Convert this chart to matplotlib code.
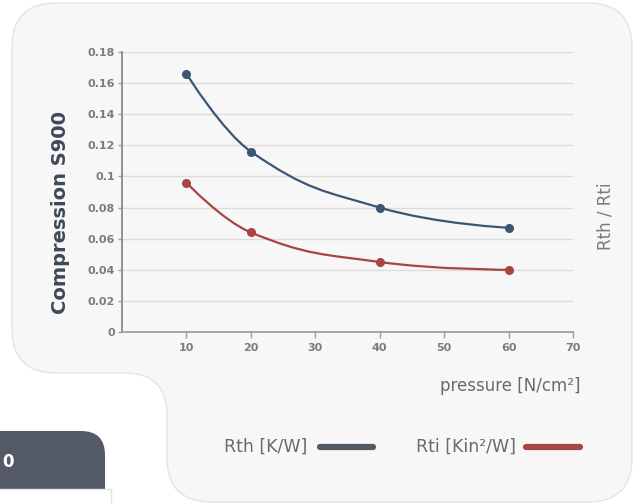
import numpy as np
import matplotlib
matplotlib.use('Agg')
import matplotlib.pyplot as plt
from matplotlib.path import Path
from matplotlib.patches import PathPatch, FancyBboxPatch, Rectangle

# data
pressure = [10, 20, 40, 60]
rth = [0.166, 0.116, 0.080, 0.067]
rti = [0.096, 0.064, 0.045, 0.040]
x_ticks = [10, 20, 30, 40, 50, 60, 70]
y_ticks = [0, 0.02, 0.04, 0.06, 0.08, 0.1, 0.12, 0.14, 0.16, 0.18]
y_tick_labels = ['0', '0.02', '0.04', '0.06', '0.08', '0.1', '0.12', '0.14', '0.16', '0.18']

RTH_COL = '#3c5573'
RTI_COL = '#a84442'
FONT = 'DejaVu Sans'


def spline_path(xs, ys, smooth=1.3):
	# highcharts-style spline: control points from neighbours, clamped so no false extremes
	n = len(xs)
	denom = smooth + 1
	lc = [None] * n
	rc = [None] * n
	for i in range(1, n - 1):
		x0, y0 = xs[i - 1], ys[i - 1]
		x1, y1 = xs[i], ys[i]
		x2, y2 = xs[i + 1], ys[i + 1]
		lx = (smooth * x1 + x0) / denom
		ly = (smooth * y1 + y0) / denom
		rx = (smooth * x1 + x2) / denom
		ry = (smooth * y1 + y2) / denom
		corr = (ry - ly) * (rx - x1) / (rx - lx) + y1 - ry
		ly += corr
		ry += corr
		if ly > y0 and ly > y1:
			ly = max(y0, y1)
			ry = 2 * y1 - ly
		elif ly < y0 and ly < y1:
			ly = min(y0, y1)
			ry = 2 * y1 - ly
		if ry > y2 and ry > y1:
			ry = max(y2, y1)
			ly = 2 * y1 - ry
		elif ry < y2 and ry < y1:
			ry = min(y2, y1)
			ly = 2 * y1 - ry
		lc[i] = (lx, ly)
		rc[i] = (rx, ry)
	verts = [(xs[0], ys[0])]
	codes = [Path.MOVETO]
	for i in range(1, n):
		c1 = rc[i - 1] if rc[i - 1] is not None else (xs[i - 1], ys[i - 1])
		c2 = lc[i] if lc[i] is not None else (xs[i], ys[i])
		verts += [c1, c2, (xs[i], ys[i])]
		codes += [Path.CURVE4] * 3
	return Path(verts, codes)


fig = plt.figure(figsize=(6.38, 5.04), dpi=100)
fig.patch.set_facecolor('white')

# background card drawn in pixel space
bg = fig.add_axes([0, 0, 1, 1], zorder=0)
bg.set_xlim(0, 638)
bg.set_ylim(504, 0)
bg.axis('off')
r = 44
rc = 42
L, T, R, B = 12, 3, 632, 502
mx, my = 167, 373
verts = [(L + r, T), (R - r, T), (R, T), (R, T + r), (R, B - r), (R, B), (R - r, B),
	(mx + r, B), (mx, B), (mx, B - r), (mx, my + rc), (mx, my), (mx - rc, my),
	(L + r, my), (L, my), (L, my - r), (L, T + r), (L, T), (L + r, T), (L + r, T)]
codes = [Path.MOVETO, Path.LINETO, Path.CURVE3, Path.CURVE3, Path.LINETO, Path.CURVE3, Path.CURVE3,
	Path.LINETO, Path.CURVE3, Path.CURVE3, Path.LINETO, Path.CURVE3, Path.CURVE3,
	Path.LINETO, Path.CURVE3, Path.CURVE3, Path.LINETO, Path.CURVE3, Path.CURVE3, Path.CLOSEPOLY]
bg.add_patch(PathPatch(Path(verts, codes), facecolor='#f7f7f7', edgecolor='#e4e4e4', lw=1.0))

# the clipped dark tab at bottom left
bg.add_patch(FancyBboxPatch((-30, 431), 135, 90, boxstyle='round,pad=0,rounding_size=24',
	facecolor='#535a66', edgecolor='none'))
bg.add_patch(Rectangle((-2, 489), 113, 20, facecolor='white', edgecolor='#e4e4e4', lw=1.0))
bg.text(2, 462, '0', color='white', fontsize=12, fontweight='bold', family=FONT, va='center', ha='left')

# main chart
ax = fig.add_axes([122 / 638, 1 - 332 / 504, 451 / 638, 280 / 504], zorder=1)
ax.set_facecolor('none')
ax.set_xlim(0, 70)
ax.set_ylim(0, 0.18)

for xs, ys, col in [(pressure, rth, RTH_COL), (pressure, rti, RTI_COL)]:
	ax.add_patch(PathPatch(spline_path(xs, ys), facecolor='none', edgecolor=col, lw=1.6, zorder=3))
	ax.plot(xs, ys, 'o', color=col, markersize=5.5, zorder=4)

ax.set_xticks(x_ticks)
ax.set_yticks(y_ticks)
ax.set_yticklabels(y_tick_labels)
ax.grid(axis='y', color='#dcdcdc', lw=1.0)
ax.set_axisbelow(True)
for s in ['top', 'right']:
	ax.spines[s].set_visible(False)
ax.spines['left'].set_color('#8a8a8a')
ax.spines['bottom'].set_color('#a0a0a0')
ax.spines['left'].set_linewidth(1.3)
ax.spines['bottom'].set_linewidth(1.3)
ax.tick_params(axis='x', length=4, width=1, color='#a0a0a0', pad=4, labelsize=8, labelcolor='#7c7c7c')
ax.tick_params(axis='y', length=3, width=1, color='#a0a0a0', pad=2, labelsize=8, labelcolor='#7c7c7c')
for lab in ax.get_xticklabels() + ax.get_yticklabels():
	lab.set_fontweight('bold')
	lab.set_family(FONT)

fig.text(60 / 638, 1 - 212 / 504, 'Compression S900', rotation=90, ha='center', va='center',
	fontsize=14, fontweight='bold', color='#3f4858', family=FONT)
fig.text(606 / 638, 1 - 216 / 504, 'Rth / Rti', rotation=90, ha='center', va='center',
	fontsize=12, color='#7a7a7a', family=FONT)
fig.text(581 / 638, 1 - 386 / 504, 'pressure [N/cm²]', ha='right', va='center',
	fontsize=12, color='#6a6a6a', family=FONT)

# legend, laid out by hand like the html one
fig.text(307 / 638, 1 - 447 / 504, 'Rth [K/W]', ha='right', va='center', fontsize=12.5, color='#6a6a6a', family=FONT)
fig.text(516 / 638, 1 - 447 / 504, 'Rti [Kin²/W]', ha='right', va='center', fontsize=12.5, color='#6a6a6a', family=FONT)
bg.plot([320, 373], [447, 447], color='#535a66', lw=4.5, solid_capstyle='round')
bg.plot([526, 580], [447, 447], color=RTI_COL, lw=4.5, solid_capstyle='round')

fig.savefig('out.png', dpi=100, facecolor='white')
